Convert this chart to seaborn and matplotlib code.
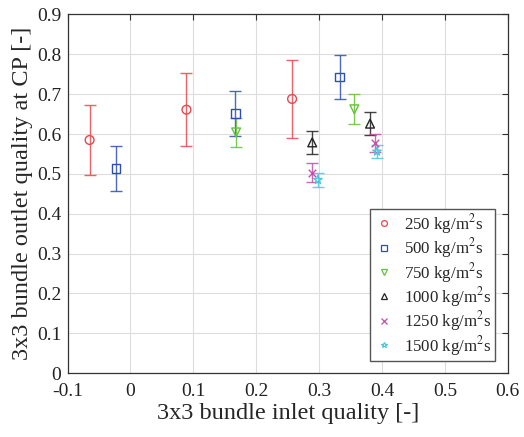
import matplotlib
matplotlib.use("Agg")
import matplotlib.pyplot as plt
import seaborn as sns
import pandas as pd
import numpy as np

sns.set_theme(style="whitegrid")
plt.rcParams['font.family'] = ['Liberation Serif', 'DejaVu Serif']
plt.rcParams['mathtext.fontset'] = 'stix'

series = ["250 kg/m$^2$s", "500 kg/m$^2$s", "750 kg/m$^2$s",
          "1000 kg/m$^2$s", "1250 kg/m$^2$s", "1500 kg/m$^2$s"]
x_250 = [-0.065, 0.089, 0.257]
y_250 = [0.585, 0.661, 0.688]
e_250 = [0.088, 0.092, 0.098]
x_500 = [-0.023, 0.167, 0.333]
y_500 = [0.514, 0.652, 0.743]
e_500 = [0.057, 0.057, 0.055]
x_750 = [0.168, 0.356]
y_750 = [0.604, 0.662]
e_750 = [0.037, 0.038]
x_1000 = [0.289, 0.381]
y_1000 = [0.579, 0.626]
e_1000 = [0.028, 0.028]
x_1250 = [0.289, 0.389]
y_1250 = [0.503, 0.577]
e_1250 = [0.024, 0.022]
x_1500 = [0.298, 0.392]
y_1500 = [0.485, 0.556]
e_1500 = [0.018, 0.017]

xs = [x_250, x_500, x_750, x_1000, x_1250, x_1500]
ys = [y_250, y_500, y_750, y_1000, y_1250, y_1500]
es = [e_250, e_500, e_750, e_1000, e_1250, e_1500]
colors = ["#e8474c", "#2f4fb0", "#66c23a", "#222222", "#c050a8", "#4cc8dc"]
markers = ["o", "s", "v", "^", "x", "*"]

rows = []
for name, xv, yv, ev in zip(series, xs, ys, es):
    for a, b, c in zip(xv, yv, ev):
        rows.append(dict(series=name, x=a, y=b, err=c))
df = pd.DataFrame(rows)

fig = plt.figure(figsize=(5.24, 4.37), dpi=100)
ax = fig.add_axes([0.129, 0.146, 0.840, 0.821])

for name, col, mk in zip(series, colors, markers):
    d = df[df.series == name]
    ax.errorbar(d.x, d.y, yerr=d.err, fmt="none", ecolor=col, elinewidth=1.0,
                capsize=4, capthick=1.0, alpha=0.85, zorder=2)
    if mk == "x":
        sns.scatterplot(data=d, x="x", y="y", ax=ax, marker=mk, color=col,
                        s=30, linewidth=1.0, zorder=3, legend=False)
    else:
        sns.scatterplot(data=d, x="x", y="y", ax=ax, marker=mk, s=40,
                        facecolor="none", edgecolor=col, linewidth=1.0,
                        zorder=3, legend=False)

handles = [plt.Line2D([], [], marker=mk, color=col, linestyle="none",
                      markerfacecolor="none", markersize=4.2, markeredgewidth=0.9)
           for col, mk in zip(colors, markers)]
leg = ax.legend(handles, series, loc="lower right", bbox_to_anchor=(0.970, 0.034),
                fontsize=12.2, frameon=True, fancybox=False, edgecolor="#555555",
                handletextpad=0.5, borderpad=0.2, labelspacing=0.02, handlelength=1.3,
                borderaxespad=0.0)
leg.get_frame().set_linewidth(1.0)
leg.get_frame().set_alpha(1.0)

ax.set_xlim(-0.1, 0.6)
ax.set_ylim(0, 0.9)
ax.set_xticks(np.arange(-0.1, 0.61, 0.1))
ax.set_yticks(np.arange(0, 0.91, 0.1))
ax.set_xticklabels(["-0.1", "0", "0.1", "0.2", "0.3", "0.4", "0.5", "0.6"])
ax.set_yticklabels(["0", "0.1", "0.2", "0.3", "0.4", "0.5", "0.6", "0.7", "0.8", "0.9"])
ax.set_xlabel("3x3 bundle inlet quality [-]", fontsize=17.5, labelpad=2)
ax.set_ylabel("3x3 bundle outlet quality at CP [-]", fontsize=17.5, labelpad=3)
ax.tick_params(axis="both", labelsize=14, direction="in", length=4, width=0.8,
               top=True, right=True, colors="#333333", labelcolor="#222222")
ax.tick_params(axis="x", pad=7)
ax.tick_params(axis="y", pad=4.5)
ax.set_facecolor("white")
ax.grid(True, color="#dddddd", linewidth=0.8)
for sp in ax.spines.values():
    sp.set_color("#333333")
    sp.set_linewidth(0.9)

fig.savefig("out.png", dpi=100)
